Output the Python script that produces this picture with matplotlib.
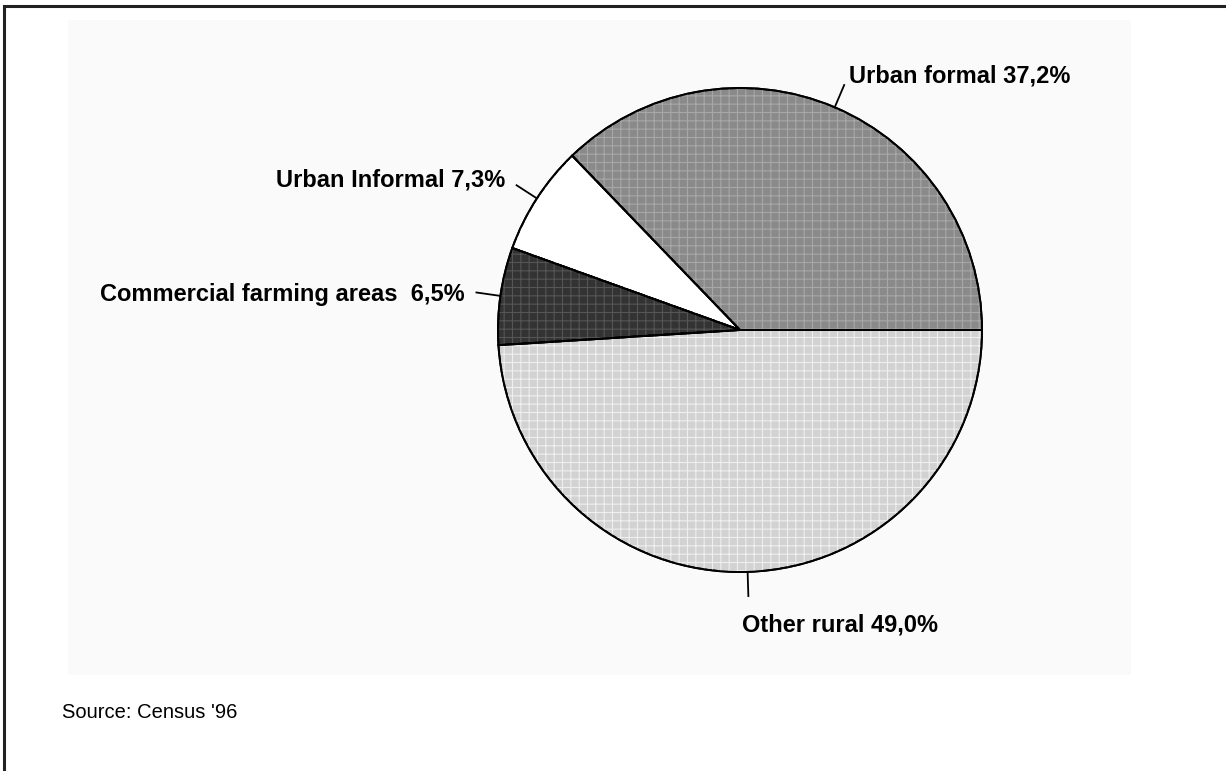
import numpy as np
import matplotlib.pyplot as plt
from matplotlib.patches import Rectangle

# === Data (Census '96) ===
categories = ['Urban formal', 'Urban Informal', 'Commercial farming areas ', 'Other rural']
shares = [37.2, 7.3, 6.5, 49.0]
fill_colors = ['#8a8a8a', '#ffffff', '#333333', '#d2d2d2']
hatch_colors = ['#a8a8a8', '#ffffff', '#555555', '#efefef']

plt.rcParams['font.family'] = ['Liberation Sans', 'DejaVu Sans']
plt.rcParams['hatch.linewidth'] = 0.8

fig = plt.figure(figsize=(12.26, 7.71), dpi=100)
ax = fig.add_axes([0, 0, 1, 1])
ax.set_xlim(0, 1226)
ax.set_ylim(0, 771)
ax.set_aspect('equal')
ax.axis('off')

# scanned-area background and frame
ax.add_patch(Rectangle((68, 96), 1063, 655, facecolor='#fafafa', edgecolor='none', zorder=0))
ax.plot([4, 4, 1226], [0, 765, 765], color='#222222', lw=2.2, solid_joinstyle='miter', zorder=5)

center = (740, 441)
radius = 242

wedges, _ = ax.pie(shares, colors=fill_colors, startangle=0, counterclock=True,
                   center=center, radius=radius, frame=True,
                   wedgeprops=dict(edgecolor='black', linewidth=1.4, zorder=1))
# texture overlay
tex, _ = ax.pie(shares, startangle=0, counterclock=True, center=center, radius=radius,
                frame=True, wedgeprops=dict(facecolor='none', linewidth=0, zorder=2))
for w, hc in zip(tex, hatch_colors):
    w.set_edgecolor(hc)
    w.set_hatch('++')
# outlines on top
ax.pie(shares, startangle=0, counterclock=True, center=center, radius=radius, frame=True,
       wedgeprops=dict(fill=False, edgecolor='black', linewidth=1.4, zorder=3))
ax.set_xlim(0, 1226)
ax.set_ylim(0, 771)
ax.axis('off')

# leader lines from wedge mid-angle + labels
label_offsets = [(5, 3, 'left', 'baseline'),
                 (-11, 5, 'right', 'center'),
                 (-12, -2, 'right', 'center'),
                 (-6, -17, 'left', 'top')]
for w, cat, val, (dx, dy, ha, va) in zip(wedges, categories, shares, label_offsets):
    ang = np.deg2rad((w.theta1 + w.theta2) / 2)
    x0 = center[0] + radius * np.cos(ang)
    y0 = center[1] + radius * np.sin(ang)
    x1 = center[0] + 1.1 * radius * np.cos(ang)
    y1 = center[1] + 1.1 * radius * np.sin(ang)
    ax.plot([x0, x1], [y0, y1], color='black', lw=1.3, zorder=4)
    txt = f"{cat} {val:.1f}%".replace('.', ',')
    ax.text(x1 + dx, y1 + dy, txt, ha=ha, va=va, fontsize=17, fontweight='bold', zorder=4)

ax.text(62, 58, "Source: Census '96", ha='left', va='center', fontsize=14.5)

plt.savefig('out.png', dpi=100)
